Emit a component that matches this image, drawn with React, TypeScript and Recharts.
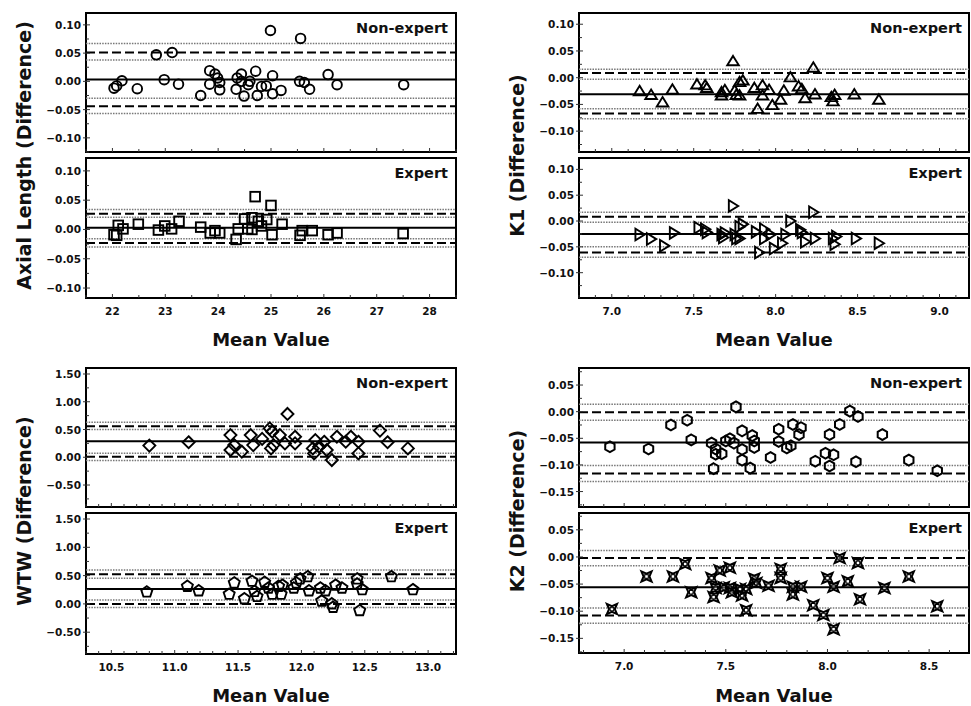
import React from 'react';
import { ScatterChart, Scatter, XAxis, YAxis, ReferenceLine, ReferenceArea } from 'recharts';

// ---- Axial length (mm) ----
const alNonExpertMean = [22.03, 22.08, 22.18, 22.47, 22.83, 23.13, 22.98, 23.25, 23.67, 23.84, 23.84, 23.94, 23.99, 24.03, 24.03, 24.36, 24.34, 24.44, 24.44, 24.49, 24.57, 24.6, 24.71, 24.74, 24.82, 24.91, 24.99, 25.03, 25.03, 25.19, 25.56, 25.54, 25.63, 25.73, 26.08, 26.25, 27.51];
const alNonExpertDiff = [-0.012, -0.008, 0.001, -0.013, 0.047, 0.051, 0.003, -0.005, -0.025, 0.019, -0.005, 0.013, 0.006, -0.002, -0.015, 0.006, -0.014, 0.013, 0.0, -0.026, -0.006, 0.0, 0.018, -0.025, -0.009, -0.008, 0.09, 0.01, -0.022, -0.016, 0.076, 0.0, -0.002, -0.014, 0.012, -0.006, -0.006];
const alNonExpertLines = [0.0035, 0.051, -0.044];
const alNonExpertCI = [0.067, 0.038, -0.03, -0.057];

const alExpertMean = [22.03, 22.11, 22.08, 22.2, 22.49, 22.87, 22.99, 23.12, 23.26, 23.67, 23.85, 23.94, 24.03, 24.34, 24.38, 24.5, 24.56, 24.64, 24.7, 24.76, 24.82, 24.92, 25.0, 25.02, 25.21, 25.55, 25.59, 25.78, 26.08, 26.25, 27.5, 24.64];
const alExpertDiff = [-0.009, 0.007, -0.01, 0.001, 0.009, -0.001, 0.006, 0.001, 0.014, 0.004, -0.006, -0.002, -0.006, -0.017, 0.001, 0.018, 0.001, 0.02, 0.056, 0.014, 0.006, 0.017, 0.041, -0.009, 0.009, -0.01, -0.002, -0.002, -0.009, -0.006, -0.007, 0.0];
const alExpertLines = [0.003, 0.027, -0.023];
const alExpertCI = [0.034, 0.021, -0.016, -0.03];

// ---- K1 (mm) ----
const k1NonExpertMean = [7.17, 7.24, 7.31, 7.37, 7.52, 7.57, 7.58, 7.67, 7.67, 7.69, 7.74, 7.75, 7.76, 7.78, 7.8, 7.78, 7.87, 7.89, 7.92, 7.92, 7.96, 7.98, 8.03, 8.05, 8.09, 8.14, 8.16, 8.18, 8.23, 8.24, 8.34, 8.35, 8.36, 8.48, 8.63];
const k1NonExpertDiff = [-0.025, -0.032, -0.046, -0.022, -0.0125, -0.014, -0.019, -0.027, -0.033, -0.023, 0.031, -0.024, -0.032, -0.008, -0.005, -0.033, -0.019, -0.058, -0.014, -0.033, -0.0225, -0.051, -0.041, -0.024, 0.001, -0.016, -0.021, -0.038, 0.019, -0.031, -0.036, -0.044, -0.032, -0.031, -0.041];
const k1NonExpertLines = [-0.031, 0.0086, -0.067];
const k1NonExpertCI = [0.016, -0.003, -0.058, -0.077];

const k1ExpertMean = [7.17, 7.24, 7.32, 7.38, 7.53, 7.57, 7.58, 7.67, 7.68, 7.69, 7.74, 7.75, 7.76, 7.78, 7.8, 7.78, 7.88, 7.9, 7.93, 7.93, 7.97, 7.99, 8.04, 8.06, 8.09, 8.15, 8.16, 8.18, 8.23, 8.24, 8.35, 8.36, 8.37, 8.49, 8.63];
const k1ExpertDiff = [-0.026, -0.035, -0.048, -0.023, -0.013, -0.016, -0.022, -0.026, -0.032, -0.023, 0.029, -0.026, -0.034, -0.011, -0.006, -0.034, -0.021, -0.061, -0.016, -0.034, -0.026, -0.053, -0.043, -0.026, 0.0, -0.017, -0.022, -0.04, 0.017, -0.034, -0.034, -0.045, -0.03, -0.034, -0.043];
const k1ExpertLines = [-0.025, 0.0083, -0.061];
const k1ExpertCI = [0.017, -0.0025, -0.05, -0.07];

// ---- WTW (mm) ----
const wtwNonExpertMean = [10.8, 11.11, 11.44, 11.44, 11.47, 11.53, 11.6, 11.62, 11.69, 11.75, 11.77, 11.76, 11.78, 11.83, 11.87, 11.89, 11.95, 11.95, 12.09, 12.11, 12.14, 12.18, 12.2, 12.24, 12.28, 12.35, 12.39, 12.45, 12.45, 12.62, 12.68, 12.84, 12.1];
const wtwNonExpertDiff = [0.21, 0.27, 0.4, 0.13, 0.22, 0.1, 0.4, 0.22, 0.33, 0.52, 0.46, 0.16, 0.22, 0.4, 0.25, 0.78, 0.37, 0.25, 0.16, 0.31, 0.19, 0.28, 0.13, -0.05, 0.37, 0.28, 0.37, 0.28, 0.07, 0.48, 0.27, 0.16, 0.07];
const wtwNonExpertLines = [0.29, 0.56, 0.01];
const wtwNonExpertCI = [0.63, 0.5, 0.072, -0.06];

const wtwExpertMean = [10.78, 11.1, 11.19, 11.43, 11.47, 11.55, 11.61, 11.63, 11.65, 11.71, 11.74, 11.77, 11.82, 11.84, 11.85, 11.94, 11.96, 11.99, 12.05, 12.06, 12.15, 12.16, 12.19, 12.24, 12.25, 12.27, 12.32, 12.44, 12.44, 12.46, 12.48, 12.71, 12.88];
const wtwExpertDiff = [0.22, 0.32, 0.24, 0.18, 0.38, 0.1, 0.41, 0.23, 0.14, 0.39, 0.29, 0.18, 0.32, 0.18, 0.34, 0.29, 0.38, 0.45, 0.49, 0.24, 0.29, 0.06, 0.24, 0.01, -0.05, 0.34, 0.29, 0.45, 0.36, -0.11, 0.26, 0.49, 0.26];
const wtwExpertLines = [0.265, 0.525, 0.0];
const wtwExpertCI = [0.6, 0.455, 0.07, -0.065];

// ---- K2 (mm) ----
const k2NonExpertMean = [6.93, 7.12, 7.23, 7.31, 7.33, 7.43, 7.45, 7.45, 7.48, 7.44, 7.5, 7.52, 7.55, 7.54, 7.58, 7.58, 7.58, 7.62, 7.63, 7.64, 7.64, 7.72, 7.76, 7.76, 7.8, 7.82, 7.83, 7.86, 7.87, 7.94, 7.99, 8.01, 8.01, 8.03, 8.06, 8.11, 8.15, 8.14, 8.27, 8.4, 8.54];
const k2NonExpertDiff = [-0.066, -0.07, -0.025, -0.016, -0.053, -0.059, -0.07, -0.08, -0.079, -0.107, -0.055, -0.051, 0.009, -0.059, -0.036, -0.071, -0.091, -0.106, -0.045, -0.055, -0.067, -0.086, -0.033, -0.056, -0.068, -0.064, -0.024, -0.043, -0.03, -0.093, -0.078, -0.043, -0.102, -0.081, -0.024, 0.001, -0.009, -0.094, -0.043, -0.091, -0.111];
const k2NonExpertLines = [-0.058, -0.001, -0.116];
const k2NonExpertCI = [0.014, -0.016, -0.101, -0.131];

const k2ExpertMean = [6.94, 7.11, 7.24, 7.3, 7.33, 7.43, 7.44, 7.45, 7.47, 7.49, 7.52, 7.52, 7.53, 7.57, 7.58, 7.6, 7.6, 7.64, 7.65, 7.71, 7.77, 7.77, 7.83, 7.83, 7.87, 7.93, 7.98, 8.0, 8.03, 8.03, 8.06, 8.1, 8.15, 8.16, 8.28, 8.4, 8.54];
const k2ExpertDiff = [-0.096, -0.036, -0.036, -0.013, -0.065, -0.039, -0.074, -0.057, -0.025, -0.056, -0.02, -0.057, -0.065, -0.059, -0.071, -0.059, -0.098, -0.04, -0.048, -0.053, -0.022, -0.039, -0.055, -0.069, -0.055, -0.089, -0.107, -0.039, -0.055, -0.133, -0.002, -0.045, -0.011, -0.078, -0.057, -0.036, -0.091];
const k2ExpertLines = [-0.056, -0.002, -0.108];
const k2ExpertCI = [0.012, -0.016, -0.094, -0.122];

// tick labels
const alXTicks = [22, 23, 24, 25, 26, 27, 28];
const alYTicks = [-0.1, -0.05, 0, 0.05, 0.1];
const k1XTicks = [7.0, 7.5, 8.0, 8.5, 9.0];
const k1YTicks = [-0.1, -0.05, 0, 0.05, 0.1];
const wtwXTicks = [10.5, 11.0, 11.5, 12.0, 12.5, 13.0];
const wtwYTicks = [-0.5, 0, 0.5, 1.0, 1.5];
const k2XTicks = [7.0, 7.5, 8.0, 8.5];
const k2YTicks = [-0.15, -0.1, -0.05, 0, 0.05];

const FONT = '"DejaVu Sans", Verdana, sans-serif';
const INK = '#000';
const MW = 1.9;

type ShapeFn = (p: any) => React.ReactElement;

const polyPoints = (cx: number, cy: number, r: number, n: number, startDeg: number) => {
  const pts: string[] = [];
  for (let i = 0; i < n; i++) {
    const a = ((startDeg + (360 / n) * i) * Math.PI) / 180;
    pts.push(`${cx + r * Math.cos(a)},${cy + r * Math.sin(a)}`);
  }
  return pts.join(' ');
};

const circleShape: ShapeFn = ({ cx, cy }) => (
  <circle cx={cx} cy={cy} r={4.8} fill="none" stroke={INK} strokeWidth={MW} />
);
const squareShape: ShapeFn = ({ cx, cy }) => (
  <rect x={cx - 4.8} y={cy - 4.8} width={9.6} height={9.6} fill="none" stroke={INK} strokeWidth={MW} />
);
const triUpShape: ShapeFn = ({ cx, cy }) => (
  <polygon points={`${cx},${cy - 5.2} ${cx + 5.8},${cy + 4.2} ${cx - 5.8},${cy + 4.2}`} fill="none" stroke={INK} strokeWidth={MW} />
);
const triRightShape: ShapeFn = ({ cx, cy }) => (
  <polygon points={`${cx + 5.2},${cy} ${cx - 4.2},${cy - 5.8} ${cx - 4.2},${cy + 5.8}`} fill="none" stroke={INK} strokeWidth={MW} />
);
const diamondShape: ShapeFn = ({ cx, cy }) => (
  <polygon points={polyPoints(cx, cy, 6, 4, -90)} fill="none" stroke={INK} strokeWidth={MW} />
);
const pentagonShape: ShapeFn = ({ cx, cy }) => (
  <polygon points={polyPoints(cx, cy + 0.5, 5.8, 5, -90)} fill="none" stroke={INK} strokeWidth={MW} />
);
const hexagonShape: ShapeFn = ({ cx, cy }) => (
  <polygon points={polyPoints(cx, cy, 5.4, 6, -90)} fill="none" stroke={INK} strokeWidth={2} />
);
const starShape: ShapeFn = ({ cx, cy }) => {
  const pts: string[] = [];
  for (let i = 0; i < 8; i++) {
    const r = i % 2 === 0 ? 7.2 : 2.9;
    const a = ((45 + 45 * i) * Math.PI) / 180;
    pts.push(`${cx + r * Math.cos(a)},${cy + r * Math.sin(a)}`);
  }
  return (
    <g>
      <polygon points={pts.join(' ')} fill="#fff" fillOpacity={0.3} stroke={INK} strokeWidth={2} />
      <rect x={cx - 1.8} y={cy - 1.8} width={3.6} height={3.6} fill="none" stroke={INK} strokeWidth={1.1} />
    </g>
  );
};

const fmt = (v: number, digits: number) => {
  const s = Math.abs(v).toFixed(digits);
  return v < -1e-9 ? `\u2212${s}` : s;
};

const minorTicks = (lo: number, hi: number, step: number, majors: number[]) => {
  const out: number[] = [];
  const start = Math.ceil(lo / step - 1e-9);
  const end = Math.floor(hi / step + 1e-9);
  for (let i = start; i <= end; i++) {
    const v = Math.round(i * step * 10000) / 10000;
    if (!majors.some((m) => Math.abs(m - v) < 1e-6)) out.push(v);
  }
  return out;
};

interface PanelProps {
  left: number;
  top: number;
  width: number;
  height: number;
  xDomain: [number, number];
  yDomain: [number, number];
  xTicks: number[];
  xMinorStep: number;
  xDigits: number;
  yTicks: number[];
  yMinorStep: number;
  showXLabels: boolean;
  xs: number[];
  ys: number[];
  lines: number[];
  ci: number[];
  shape: ShapeFn;
}

const YW = 60;
const MT = 4;
const MR = 3;

const Panel: React.FC<PanelProps> = (p) => {
  const XH = p.showXLabels ? 26 : 6;
  const data = p.xs.map((x, i) => ({ x, y: p.ys[i] }));
  const xAll = [...p.xTicks, ...minorTicks(p.xDomain[0], p.xDomain[1], p.xMinorStep, p.xTicks)].sort((a, b) => a - b);
  const yAll = [...p.yTicks, ...minorTicks(p.yDomain[0], p.yDomain[1], p.yMinorStep, p.yTicks)].sort((a, b) => a - b);
  const isMajor = (list: number[], v: number) => list.some((m) => Math.abs(m - v) < 1e-6);

  const renderXTick = (t: any) => {
    const { x, y, payload } = t;
    const major = isMajor(p.xTicks, payload.value);
    return (
      <g>
        <line x1={x} x2={x} y1={y} y2={y - (major ? 4 : 3)} stroke="#333" strokeWidth={1} />
        {major && p.showXLabels && (
          <text x={x} y={y + 13} textAnchor="middle" dominantBaseline="central" fontFamily={FONT} fontWeight="bold" fontSize={10.5} fill="#111">
            {fmt(payload.value, p.xDigits)}
          </text>
        )}
      </g>
    );
  };

  const renderYTick = (t: any) => {
    const { x, y, payload } = t;
    const major = isMajor(p.yTicks, payload.value);
    return (
      <g>
        <line x1={major ? x - 3 : x} x2={x + (major ? 4 : 3)} y1={y} y2={y} stroke="#333" strokeWidth={1} />
        {major && (
          <text x={x - 5} y={y} textAnchor="end" dominantBaseline="central" fontFamily={FONT} fontWeight="bold" fontSize={10.5} fill="#111">
            {fmt(payload.value, 2)}
          </text>
        )}
      </g>
    );
  };

  return (
    <div style={{ position: 'absolute', left: p.left - YW, top: p.top - MT }}>
      <ScatterChart width={YW + p.width + MR} height={MT + p.height + XH} margin={{ top: MT, right: MR, bottom: 0, left: 0 }}>
        <XAxis
          type="number"
          dataKey="x"
          domain={p.xDomain}
          allowDataOverflow
          ticks={xAll}
          interval={0}
          height={XH}
          axisLine={false}
          tickLine={false}
          tickSize={0}
          tickMargin={0}
          tick={renderXTick}
        />
        <YAxis
          type="number"
          dataKey="y"
          domain={p.yDomain}
          allowDataOverflow
          ticks={yAll}
          interval={0}
          width={YW}
          axisLine={false}
          tickLine={false}
          tickSize={0}
          tickMargin={0}
          tick={renderYTick}
        />
        {p.ci.map((v, i) => (
          <ReferenceLine key={`ci${i}`} y={v} stroke="#777" strokeWidth={1.5} strokeDasharray="1.5 1.2" />
        ))}
        <ReferenceLine y={p.lines[1]} stroke={INK} strokeWidth={2} strokeDasharray="9 4" />
        <ReferenceLine y={p.lines[2]} stroke={INK} strokeWidth={2} strokeDasharray="9 4" />
        <ReferenceLine y={p.lines[0]} stroke={INK} strokeWidth={2} />
        <Scatter data={data} shape={p.shape} isAnimationActive={false} />
        <ReferenceArea
          x1={p.xDomain[0]}
          x2={p.xDomain[1]}
          y1={p.yDomain[0]}
          y2={p.yDomain[1]}
          fill="none"
          fillOpacity={0}
          stroke={INK}
          strokeWidth={2}
          ifOverflow="visible"
        />
      </ScatterChart>
    </div>
  );
};

const LX = 86;
const LW = 370;
const RX = 579;
const RW = 390;

const panelLabels = [
  { x: LX + LW - 8, y: 28, text: 'Non-expert' },
  { x: LX + LW - 8, y: 173, text: 'Expert' },
  { x: RX + RW - 7, y: 28, text: 'Non-expert' },
  { x: RX + RW - 7, y: 173, text: 'Expert' },
  { x: LX + LW - 8, y: 383, text: 'Non-expert' },
  { x: LX + LW - 8, y: 528, text: 'Expert' },
  { x: RX + RW - 7, y: 383, text: 'Non-expert' },
  { x: RX + RW - 7, y: 528, text: 'Expert' },
];

const yTitles = [
  { x: 24, y: 155.5, text: 'Axial Length (Difference)' },
  { x: 517, y: 155.5, text: 'K1 (Difference)' },
  { x: 24, y: 511, text: 'WTW (Difference)' },
  { x: 517, y: 511, text: 'K2 (Difference)' },
];

const xTitles = [
  { x: LX + LW / 2, y: 339 },
  { x: RX + RW / 2, y: 339 },
  { x: LX + LW / 2, y: 695 },
  { x: RX + RW / 2, y: 695 },
];

export default function App() {
  return (
    <div style={{ position: 'absolute', left: 0, top: 0, width: 971, height: 706, overflow: 'hidden', background: '#fff' }}>
      <Panel left={LX} top={13} width={LW} height={139} xDomain={[21.5, 28.5]} yDomain={[-0.125, 0.121]}
        xTicks={alXTicks} xMinorStep={0.5} xDigits={0} yTicks={alYTicks} yMinorStep={0.025} showXLabels={false}
        xs={alNonExpertMean} ys={alNonExpertDiff} lines={alNonExpertLines} ci={alNonExpertCI} shape={circleShape} />
      <Panel left={LX} top={158} width={LW} height={140} xDomain={[21.5, 28.5]} yDomain={[-0.117, 0.122]}
        xTicks={alXTicks} xMinorStep={0.5} xDigits={0} yTicks={alYTicks} yMinorStep={0.025} showXLabels
        xs={alExpertMean} ys={alExpertDiff} lines={alExpertLines} ci={alExpertCI} shape={squareShape} />

      <Panel left={RX} top={13} width={RW} height={139} xDomain={[6.8, 9.18]} yDomain={[-0.139, 0.121]}
        xTicks={k1XTicks} xMinorStep={0.1} xDigits={1} yTicks={k1YTicks} yMinorStep={0.025} showXLabels={false}
        xs={k1NonExpertMean} ys={k1NonExpertDiff} lines={k1NonExpertLines} ci={k1NonExpertCI} shape={triUpShape} />
      <Panel left={RX} top={158} width={RW} height={140} xDomain={[6.8, 9.18]} yDomain={[-0.149, 0.122]}
        xTicks={k1XTicks} xMinorStep={0.1} xDigits={1} yTicks={k1YTicks} yMinorStep={0.025} showXLabels
        xs={k1ExpertMean} ys={k1ExpertDiff} lines={k1ExpertLines} ci={k1ExpertCI} shape={triRightShape} />

      <Panel left={LX} top={368} width={LW} height={139} xDomain={[10.3, 13.22]} yDomain={[-0.896, 1.608]}
        xTicks={wtwXTicks} xMinorStep={0.1} xDigits={1} yTicks={wtwYTicks} yMinorStep={0.25} showXLabels={false}
        xs={wtwNonExpertMean} ys={wtwNonExpertDiff} lines={wtwNonExpertLines} ci={wtwNonExpertCI} shape={diamondShape} />
      <Panel left={LX} top={513} width={LW} height={141} xDomain={[10.3, 13.22]} yDomain={[-0.885, 1.606]}
        xTicks={wtwXTicks} xMinorStep={0.1} xDigits={1} yTicks={wtwYTicks} yMinorStep={0.25} showXLabels
        xs={wtwExpertMean} ys={wtwExpertDiff} lines={wtwExpertLines} ci={wtwExpertCI} shape={pentagonShape} />

      <Panel left={RX} top={368} width={RW} height={139} xDomain={[6.778, 8.696]} yDomain={[-0.179, 0.082]}
        xTicks={k2XTicks} xMinorStep={0.1} xDigits={1} yTicks={k2YTicks} yMinorStep={0.025} showXLabels={false}
        xs={k2NonExpertMean} ys={k2NonExpertDiff} lines={k2NonExpertLines} ci={k2NonExpertCI} shape={hexagonShape} />
      <Panel left={RX} top={513} width={RW} height={140} xDomain={[6.778, 8.696]} yDomain={[-0.177, 0.081]}
        xTicks={k2XTicks} xMinorStep={0.1} xDigits={1} yTicks={k2YTicks} yMinorStep={0.025} showXLabels
        xs={k2ExpertMean} ys={k2ExpertDiff} lines={k2ExpertLines} ci={k2ExpertCI} shape={starShape} />

      <svg width={971} height={706} style={{ position: 'absolute', left: 0, top: 0, pointerEvents: 'none' }}>
        {panelLabels.map((l, i) => (
          <text key={`p${i}`} x={l.x} y={l.y} textAnchor="end" dominantBaseline="central" fontFamily={FONT} fontWeight="bold" fontSize={14.5} fill="#111">
            {l.text}
          </text>
        ))}
        {yTitles.map((l, i) => (
          <text key={`y${i}`} x={l.x} y={l.y} transform={`rotate(-90 ${l.x} ${l.y})`} textAnchor="middle" dominantBaseline="central" fontFamily={FONT} fontWeight="bold" fontSize={19} fill="#111">
            {l.text}
          </text>
        ))}
        {xTitles.map((l, i) => (
          <text key={`x${i}`} x={l.x} y={l.y} textAnchor="middle" dominantBaseline="central" fontFamily={FONT} fontWeight="bold" fontSize={18} fill="#111">
            Mean Value
          </text>
        ))}
      </svg>
    </div>
  );
}
